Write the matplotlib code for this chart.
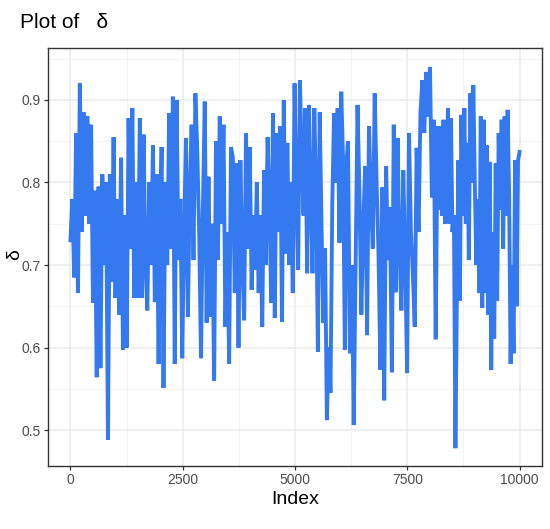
import numpy as np
import matplotlib
matplotlib.use("Agg")
import matplotlib.pyplot as plt
from matplotlib.ticker import MultipleLocator

plt.rcParams['font.family'] = ['Liberation Sans', 'DejaVu Sans']

# trace values, in five consecutive stretches of the index
seg1 = [0.73, 0.78, 0.685, 0.86, 0.666, 0.92, 0.74, 0.885, 0.76, 0.88, 0.75, 0.87, 0.654, 0.79,
        0.564, 0.795, 0.575, 0.81, 0.70, 0.80, 0.488, 0.81, 0.68, 0.855, 0.66, 0.78, 0.64, 0.83,
        0.597, 0.76, 0.60, 0.878, 0.72, 0.89, 0.66, 0.80, 0.66, 0.878, 0.66, 0.858, 0.70, 0.645,
        0.80, 0.70, 0.845, 0.655, 0.81, 0.58, 0.78]
seg2 = [0.843, 0.551, 0.80, 0.70, 0.884, 0.72, 0.904, 0.58, 0.90, 0.706, 0.78, 0.587, 0.74, 0.854,
        0.637, 0.787, 0.87, 0.706, 0.908, 0.84, 0.742, 0.587, 0.767, 0.898, 0.63, 0.807, 0.637,
        0.75, 0.56, 0.85, 0.706, 0.88, 0.75, 0.87, 0.625, 0.74, 0.58, 0.843, 0.83, 0.666, 0.823,
        0.60, 0.827, 0.706, 0.633, 0.86, 0.72, 0.843, 0.67, 0.76]
seg3 = [0.694, 0.80, 0.666, 0.76, 0.625, 0.815, 0.70, 0.855, 0.775, 0.654, 0.884, 0.636, 0.86,
        0.74, 0.868, 0.631, 0.90, 0.714, 0.848, 0.70, 0.80, 0.666, 0.92, 0.787, 0.694, 0.924,
        0.827, 0.76, 0.89, 0.69, 0.894, 0.787, 0.69, 0.89, 0.787, 0.595, 0.885, 0.75, 0.63, 0.72,
        0.512, 0.60, 0.545, 0.775, 0.884, 0.80, 0.89, 0.727, 0.91, 0.827, 0.597, 0.827]
seg4 = [0.85, 0.593, 0.70, 0.506, 0.70, 0.894, 0.787, 0.64, 0.75, 0.82, 0.615, 0.868, 0.78, 0.72,
        0.908, 0.80, 0.714, 0.573, 0.794, 0.536, 0.82, 0.706, 0.77, 0.57, 0.87, 0.667, 0.854,
        0.72, 0.645, 0.815, 0.706, 0.569, 0.86, 0.74, 0.69, 0.625, 0.842, 0.74, 0.884, 0.924,
        0.86, 0.934, 0.88, 0.94, 0.782, 0.876, 0.61, 0.868, 0.767]
seg5 = [0.868, 0.76, 0.876, 0.75, 0.78, 0.89, 0.75, 0.878, 0.74, 0.76, 0.478, 0.666, 0.827,
        0.657, 0.882, 0.76, 0.89, 0.75, 0.848, 0.706, 0.908, 0.80, 0.918, 0.80, 0.70, 0.78,
        0.666, 0.88, 0.648, 0.876, 0.666, 0.845, 0.64, 0.825, 0.573, 0.74, 0.611, 0.823, 0.657,
        0.86, 0.767, 0.876, 0.72, 0.88, 0.76, 0.888, 0.787, 0.58, 0.70, 0.593, 0.827, 0.65,
        0.827, 0.837]
seg_start = [0, 2030, 4110, 6180, 8240]
seg_end = [2004, 4076, 6150, 8218, 10000]

x_ticks = [0, 2500, 5000, 7500, 10000]
y_ticks = [0.5, 0.6, 0.7, 0.8, 0.9]

segs = [seg1, seg2, seg3, seg4, seg5]
xs = np.concatenate([np.linspace(a, b, len(s)) for a, b, s in zip(seg_start, seg_end, segs)])
ys = np.concatenate([np.array(s) for s in segs])

fig = plt.figure(figsize=(5.5, 5.29), dpi=100)
ax = fig.add_axes([48 / 550, 1 - 466 / 529, (542 - 48) / 550, (466 - 48) / 529])

ax.plot(xs, ys, color='#3579f0', lw=2.8, solid_joinstyle='miter')

ax.set_xlim(-500, 10500)
ax.set_ylim(0.4564, 0.963)
ax.set_xticks(x_ticks)
ax.set_xticklabels([str(v) for v in x_ticks])
ax.set_yticks(y_ticks)
ax.set_yticklabels([f"{v:.1f}" for v in y_ticks])
ax.xaxis.set_minor_locator(MultipleLocator(1250))
ax.yaxis.set_minor_locator(MultipleLocator(0.05))

ax.grid(which='major', color='#EBEBEB', lw=1.1)
ax.grid(which='minor', color='#F2F2F2', lw=0.6)
ax.set_axisbelow(True)
for sp in ax.spines.values():
    sp.set_color('#333333')
    sp.set_linewidth(1.0)
ax.tick_params(which='major', length=3, width=0.9, color='#333333', labelcolor='#4D4D4D',
               labelsize=10, pad=2)
ax.tick_params(which='minor', length=0)

ax.set_xlabel('Index', fontsize=14, color='black', labelpad=3)
fig.text(15 / 550, 1 - 255 / 529, 'δ', fontsize=14, color='black', rotation=90,
         ha='center', va='center')
fig.text(20 / 550, 1 - 28 / 529, 'Plot of   δ', fontsize=15, color='black', va='baseline', ha='left')

fig.savefig('out.png', dpi=100)
